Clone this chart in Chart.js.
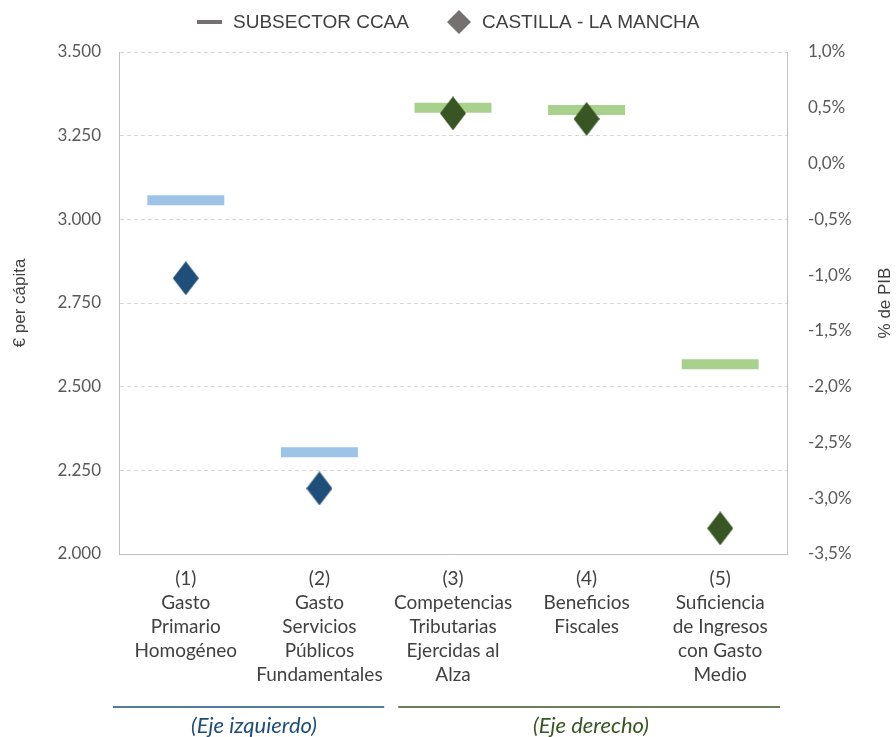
<!DOCTYPE html>
<html lang="es">
<head>
<meta charset="UTF-8">
<title>Subsector CCAA vs Castilla - La Mancha</title>
<script src="https://cdn.jsdelivr.net/npm/chart.js@4.4.1/dist/chart.umd.min.js"></script>
<style>
    body { margin: 0; background: #fff; }
    .chart-box { width: 896px; height: 737px; position: relative; }
</style>
</head>
<body>
<div class="chart-box"><canvas id="fiscalChart"></canvas></div>
<script>
    const categories = [
        ['(1)', 'Gasto', 'Primario', 'Homogéneo'],
        ['(2)', 'Gasto', 'Servicios', 'Públicos', 'Fundamentales'],
        ['(3)', 'Competencias', 'Tributarias', 'Ejercidas al', 'Alza'],
        ['(4)', 'Beneficios', 'Fiscales'],
        ['(5)', 'Suficiencia', 'de Ingresos', 'con Gasto', 'Medio']
    ];
    // eje izquierdo, € per cápita (indicadores 1 y 2)
    const subsectorLeft = [3057, 2304, null, null, null];
    const clmLeft = [2824, 2196, null, null, null];
    // eje derecho, % de PIB (indicadores 3 a 5)
    const subsectorRight = [null, null, 0.50, 0.48, -1.80];
    const clmRight = [null, null, 0.45, 0.40, -3.27];

    const leftRange = [2000, 3500, 250];
    const rightRange = [-3.5, 1.0, 0.5];
    const seriesNames = ['SUBSECTOR CCAA', 'CASTILLA - LA MANCHA'];
    const groupNames = ['(Eje izquierdo)', '(Eje derecho)'];
    const axisTitles = ['€ per cápita', '% de PIB'];

    const TICK_FONT = { family: 'Lato', size: 17 };
    const SANS = 'Liberation Sans, Arial, sans-serif';

    function diamond(w, h, color) {
        const c = document.createElement('canvas');
        c.width = w; c.height = h;
        const g = c.getContext('2d');
        g.fillStyle = color;
        g.beginPath();
        g.moveTo(w / 2, 0);
        g.lineTo(w, h / 2);
        g.lineTo(w / 2, h);
        g.lineTo(0, h / 2);
        g.closePath();
        g.fill();
        return c;
    }

    function thousands(v) {
        return String(Math.round(v)).replace(/\B(?=(\d{3})+(?!\d))/g, '.');
    }

    const legendDiamond = diamond(24, 24, '#767171');

    // legend, right-hand title and the axis groups under the labels
    const extras = {
        id: 'extras',
        afterDraw(chart) {
            const { ctx, chartArea } = chart;
            ctx.save();

            ctx.textBaseline = 'middle';
            ctx.textAlign = 'left';
            ctx.font = '19px ' + SANS;
            ctx.fillStyle = '#767171';
            ctx.fillRect(197, 20, 25, 4);
            ctx.drawImage(legendDiamond, 447, 10);
            ctx.fillStyle = '#404040';
            ctx.fillText(seriesNames[0], 233, 23);
            ctx.fillText(seriesNames[1], 482, 23);

            ctx.save();
            ctx.font = '17px ' + SANS;
            ctx.textAlign = 'center';
            ctx.translate(885, (chartArea.top + chartArea.bottom) / 2);
            ctx.rotate(-Math.PI / 2);
            ctx.fillText(axisTitles[1], 0, 0);
            ctx.restore();

            const band = (chartArea.right - chartArea.left) / categories.length;
            const split = chartArea.left + 2 * band;
            ctx.lineWidth = 1.5;
            ctx.strokeStyle = '#1F4E79';
            ctx.beginPath();
            ctx.moveTo(chartArea.left - 6, 707);
            ctx.lineTo(split - 2, 707);
            ctx.stroke();
            ctx.strokeStyle = '#375623';
            ctx.beginPath();
            ctx.moveTo(split + 12, 707);
            ctx.lineTo(chartArea.right - 7, 707);
            ctx.stroke();

            ctx.font = 'italic 22px Lato';
            ctx.textAlign = 'center';
            ctx.fillStyle = '#1F4E79';
            ctx.fillText(groupNames[0], 254, 726);
            ctx.fillStyle = '#375623';
            ctx.fillText(groupNames[1], 591, 726);
            ctx.restore();
        }
    };

    const ctx = document.getElementById('fiscalChart').getContext('2d');
    new Chart(ctx, {
        type: 'line',
        data: {
            labels: categories,
            datasets: [{
                label: seriesNames[1],
                data: clmLeft,
                yAxisID: 'yLeft',
                showLine: false,
                pointStyle: diamond(26, 34, '#1F4E79'),
                pointRadius: 13
            }, {
                label: seriesNames[1],
                data: clmRight,
                yAxisID: 'yRight',
                showLine: false,
                pointStyle: diamond(26, 34, '#375623'),
                pointRadius: 13
            }, {
                label: seriesNames[0],
                data: subsectorLeft,
                yAxisID: 'yLeft',
                showLine: false,
                pointStyle: 'line',
                pointRadius: 38.5,
                pointBorderWidth: 10,
                pointBorderColor: '#9DC3E6',
                pointBackgroundColor: '#9DC3E6'
            }, {
                label: seriesNames[0],
                data: subsectorRight,
                yAxisID: 'yRight',
                showLine: false,
                pointStyle: 'line',
                pointRadius: 38.5,
                pointBorderWidth: 10,
                pointBorderColor: '#A9D18E',
                pointBackgroundColor: '#A9D18E'
            }]
        },
        options: {
            responsive: true,
            maintainAspectRatio: false,
            animation: false,
            events: [],
            layout: { padding: { top: 52, left: 0, right: 0, bottom: 0 } },
            plugins: {
                legend: { display: false },
                tooltip: { enabled: false }
            },
            scales: {
                x: {
                    offset: true,
                    grid: { display: false },
                    border: { display: true, color: '#bfbfbf' },
                    ticks: {
                        color: '#404040',
                        font: { family: 'Lato', size: 19, lineHeight: 1.26 },
                        padding: 5,
                        maxRotation: 0,
                        autoSkip: false
                    },
                    afterFit: s => { s.height = 183; }
                },
                yLeft: {
                    position: 'left',
                    min: leftRange[0],
                    max: leftRange[1],
                    grid: { color: '#d9d9d9', drawTicks: false },
                    border: { display: true, color: '#bfbfbf', dash: [4, 3] },
                    ticks: {
                        stepSize: leftRange[2],
                        color: '#595959',
                        font: TICK_FONT,
                        padding: 18,
                        callback: v => thousands(v)
                    },
                    title: {
                        display: true,
                        text: axisTitles[0],
                        color: '#404040',
                        font: { family: SANS, size: 17 },
                        padding: { top: 10, bottom: 0 }
                    },
                    afterFit: s => { s.width = 119; }
                },
                yRight: {
                    position: 'right',
                    min: rightRange[0],
                    max: rightRange[1],
                    grid: { display: false, drawTicks: false },
                    border: { display: true, color: '#bfbfbf' },
                    ticks: {
                        stepSize: rightRange[2],
                        color: '#595959',
                        font: TICK_FONT,
                        padding: 21,
                        callback: v => v.toFixed(1).replace('.', ',') + '%'
                    },
                    afterFit: s => { s.width = 109; }
                }
            }
        },
        plugins: [extras]
    });
</script>
</body>
</html>
